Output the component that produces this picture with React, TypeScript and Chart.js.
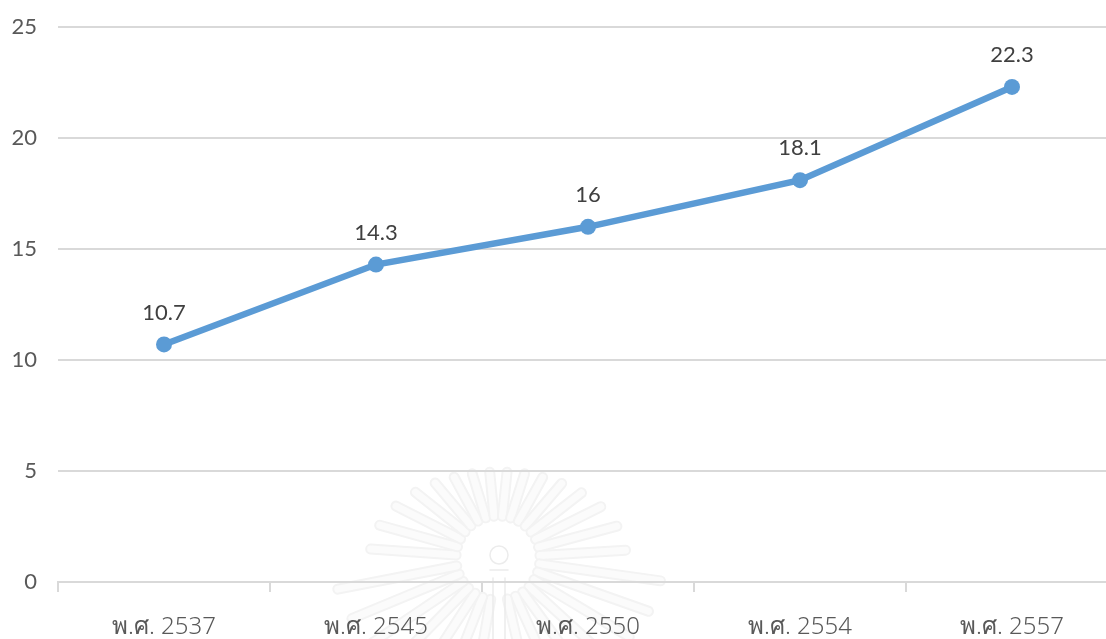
import React, { useEffect, useRef } from "react";
import { Chart, registerables } from "chart.js";

Chart.register(...registerables);

const categories = ["พ.ศ. 2537", "พ.ศ. 2545", "พ.ศ. 2550", "พ.ศ. 2554", "พ.ศ. 2557"];
const values = [10.7, 14.3, 16, 18.1, 22.3];
const yTicks = [0, 5, 10, 15, 20, 25];

const valueLabels = {
  id: "valueLabels",
  afterDatasetsDraw(chart: any) {
    const { ctx } = chart;
    const meta = chart.getDatasetMeta(0);
    ctx.save();
    ctx.font = '22px Lato';
    ctx.fillStyle = "#404040";
    ctx.textAlign = "center";
    ctx.textBaseline = "middle";
    meta.data.forEach((p: any, i: number) => {
      ctx.fillText(String(values[i]), p.x, p.y - 32);
    });
    ctx.restore();
  },
};

// Faint crest watermark behind the chart.
const watermark = {
  id: "watermark",
  beforeDraw(chart: any) {
    const { ctx } = chart;
    const cx = 498;
    const cy = 558;
    ctx.save();
    ctx.lineCap = "round";
    for (let deg = -176; deg < 180; deg += 11.5) {
      const a = (deg * Math.PI) / 180;
      const nearBottom = Math.abs(deg - 90) < 9;
      if (nearBottom) continue;
      const lower = Math.sin(a) > 0.1;
      const rx = lower ? 165 : 128;
      const ry = lower ? 130 : 86;
      const outer = 1 / Math.sqrt((Math.cos(a) / rx) ** 2 + (Math.sin(a) / ry) ** 2);
      const x0 = cx + Math.cos(a) * 42;
      const y0 = cy + Math.sin(a) * 42;
      const x1 = cx + Math.cos(a) * outer;
      const y1 = cy + Math.sin(a) * outer;
      ctx.strokeStyle = "#f3f3f3";
      ctx.lineWidth = 11;
      ctx.beginPath();
      ctx.moveTo(x0, y0);
      ctx.lineTo(x1, y1);
      ctx.stroke();
      ctx.strokeStyle = "#fbfbfb";
      ctx.lineWidth = 7;
      ctx.beginPath();
      ctx.moveTo(x0, y0);
      ctx.lineTo(x1, y1);
      ctx.stroke();
    }
    ctx.strokeStyle = "#ececec";
    ctx.lineWidth = 1.5;
    ctx.beginPath();
    ctx.arc(499, 555, 9, 0, Math.PI * 2);
    ctx.stroke();
    ctx.beginPath();
    ctx.moveTo(490, 570);
    ctx.lineTo(508, 570);
    ctx.moveTo(493, 578);
    ctx.lineTo(493, 639);
    ctx.moveTo(505, 578);
    ctx.lineTo(505, 639);
    ctx.stroke();
    ctx.restore();
  },
};

export default function App() {
  const ref = useRef<HTMLCanvasElement>(null);
  useEffect(() => {
    document.body.style.margin = "0";
    document.body.style.overflow = "hidden";
    const chart = new Chart(ref.current!, {
      type: "line",
      data: {
        labels: categories,
        datasets: [
          {
            data: values,
            borderColor: "#5b9bd5",
            backgroundColor: "#5b9bd5",
            borderWidth: 6.5,
            pointRadius: 8,
            pointBorderWidth: 0,
            tension: 0,
          },
        ],
      },
      options: {
        animation: false,
        responsive: false,
        layout: { padding: { top: 27, left: 0, right: 0, bottom: 0 } },
        plugins: { legend: { display: false }, tooltip: { enabled: false } },
        scales: {
          x: {
            type: "category",
            offset: true,
            afterFit(s: any) { s.height = 57; },
            border: { color: "#d9d9d9", width: 2 },
            grid: { drawOnChartArea: false, drawTicks: true, tickLength: 10, color: "#d9d9d9", lineWidth: 2, offset: true },
            ticks: { color: "#595959", font: { family: '"Noto Sans", sans-serif', size: 24, weight: "300" }, padding: 21, maxRotation: 0, autoSkip: false },
          },
          y: {
            min: 0,
            max: 25,
            afterFit(s: any) { s.width = 58; s.paddingTop = 0; s.paddingBottom = 0; },
            afterBuildTicks(s: any) { s.ticks = yTicks.map((value) => ({ value })); },
            border: { display: false },
            grid: { color: "#d9d9d9", lineWidth: 2, drawTicks: false },
            ticks: { color: "#595959", font: { family: "Lato", size: 22 }, padding: 21 },
          },
        },
      } as any,
      plugins: [watermark, valueLabels],
    });
    return () => chart.destroy();
  }, []);
  return (
    <div style={{ width: 1106, height: 639, overflow: "hidden", position: "relative" }}>
      <canvas ref={ref} width={1126} height={639} style={{ display: "block" }} />
    </div>
  );
}
